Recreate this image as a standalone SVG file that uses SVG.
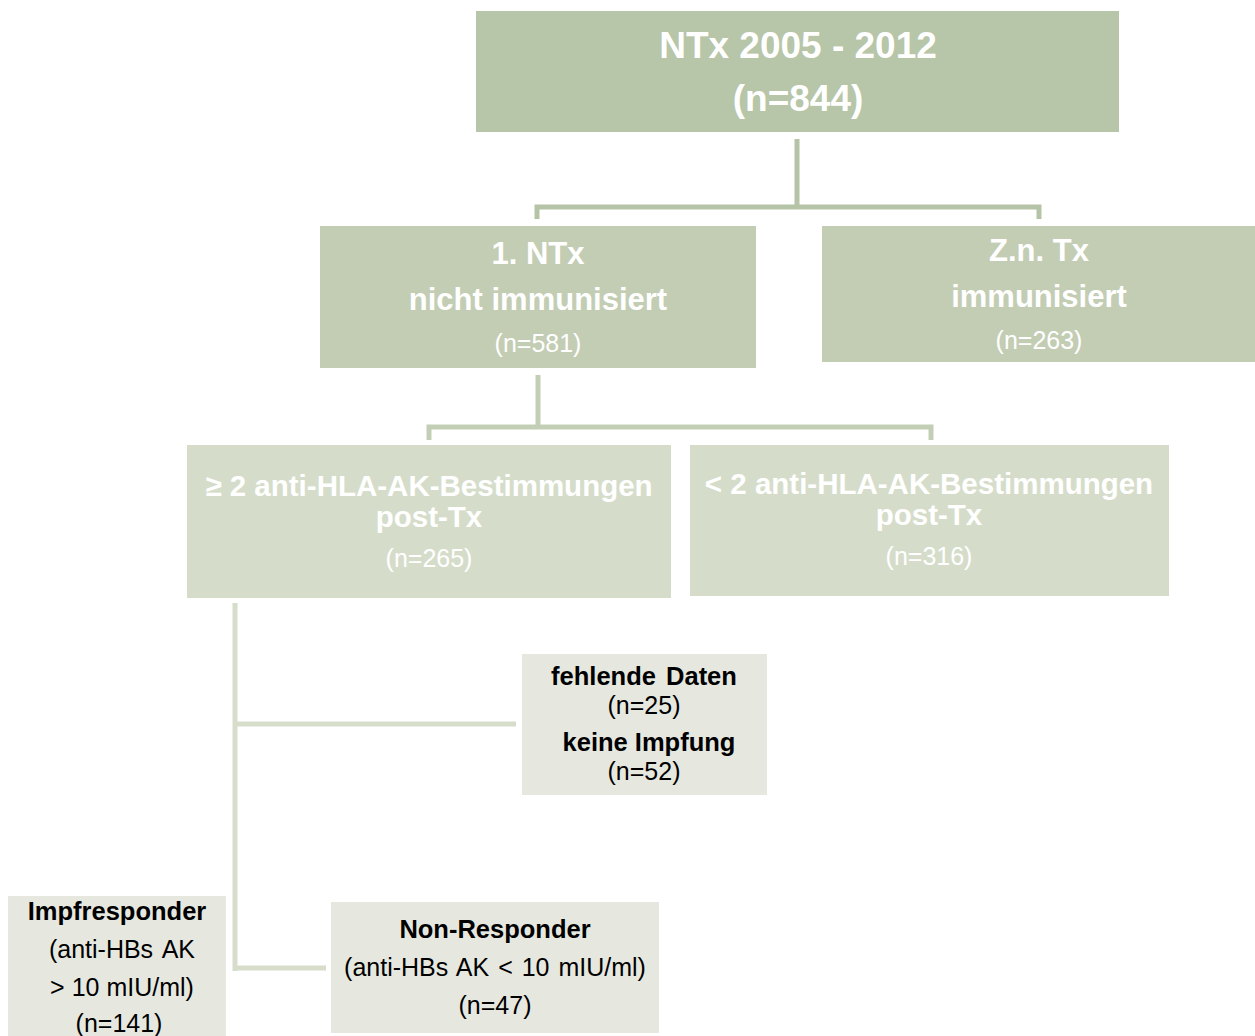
<svg xmlns="http://www.w3.org/2000/svg" width="1255" height="1036" viewBox="0 0 1255 1036">
<style>
text{font-family:"Liberation Sans",Arial,sans-serif;text-anchor:middle}
.w{fill:#ffffff}
.k{fill:#000000}
.b{font-weight:bold}
.c1{stroke:#b5c3a7;stroke-width:5;fill:none}
.c2{stroke:#c3cfb5;stroke-width:5;fill:none}
.c3{stroke:#d6ddcb;stroke-width:5;fill:none}
</style>
<g id="connectors">
<path class="c1" d="M797 139V207M537 219V207H1039V219"/>
<path class="c2" d="M538 375V427M429 440V427H931V440"/>
<path class="c3" d="M235 603V971M235 724H516M235 968H326"/>
</g>
<g id="n_top">
<rect x="476" y="11" width="643" height="121" fill="#b7c5a8"/>
<text class="w b" x="798" y="58" font-size="37">NTx 2005 - 2012</text>
<text class="w b" x="798" y="111" font-size="37">(n=844)</text>
</g>
<g id="n_first">
<rect x="320" y="226" width="436" height="142" fill="#c3cdb4"/>
<text class="w b" x="538" y="264" font-size="31">1. NTx</text>
<text class="w b" x="538" y="310" font-size="31">nicht immunisiert</text>
<text class="w" x="538" y="352" font-size="25">(n=581)</text>
</g>
<g id="n_zn">
<rect x="822" y="226" width="433" height="136" fill="#c3cdb4"/>
<text class="w b" x="1039" y="261" font-size="31">Z.n. Tx</text>
<text class="w b" x="1039" y="307" font-size="31">immunisiert</text>
<text class="w" x="1039" y="349" font-size="25">(n=263)</text>
</g>
<g id="n_ge2">
<rect x="187" y="445" width="484" height="153" fill="#d5ddca"/>
<text class="w b" x="429" y="496" font-size="29.5">≥ 2 anti-HLA-AK-Bestimmungen</text>
<text class="w b" x="429" y="527" font-size="29.5">post-Tx</text>
<text class="w" x="429" y="567" font-size="25">(n=265)</text>
</g>
<g id="n_lt2">
<rect x="690" y="445" width="479" height="151" fill="#d5ddca"/>
<text class="w b" x="929" y="494" font-size="29.5">&lt; 2 anti-HLA-AK-Bestimmungen</text>
<text class="w b" x="929" y="525" font-size="29.5">post-Tx</text>
<text class="w" x="929" y="565" font-size="25">(n=316)</text>
</g>
<g id="n_missing">
<rect x="522" y="654" width="245" height="141" fill="#e6e8df"/>
<text class="k b" x="644" y="685" font-size="25.5" word-spacing="3">fehlende Daten</text>
<text class="k" x="644" y="714" font-size="25">(n=25)</text>
<text class="k b" x="649" y="751" font-size="25.5">keine Impfung</text>
<text class="k" x="644" y="780" font-size="25">(n=52)</text>
</g>
<g id="n_resp">
<rect x="8" y="896" width="218" height="140" fill="#e6e8df"/>
<text class="k b" x="117" y="920" font-size="25.5">Impfresponder</text>
<text class="k" x="122" y="958" font-size="25" word-spacing="3">(anti-HBs AK</text>
<text class="k" x="122" y="996" font-size="25">&gt; 10 mIU/ml)</text>
<text class="k" x="119" y="1032" font-size="25">(n=141)</text>
</g>
<g id="n_nonresp">
<rect x="331" y="902" width="328" height="131" fill="#e6e8df"/>
<text class="k b" x="495" y="938" font-size="25.5">Non-Responder</text>
<text class="k" x="495" y="976" font-size="25" word-spacing="2">(anti-HBs AK &lt; 10 mIU/ml)</text>
<text class="k" x="495" y="1014" font-size="25">(n=47)</text>
</g>
</svg>
